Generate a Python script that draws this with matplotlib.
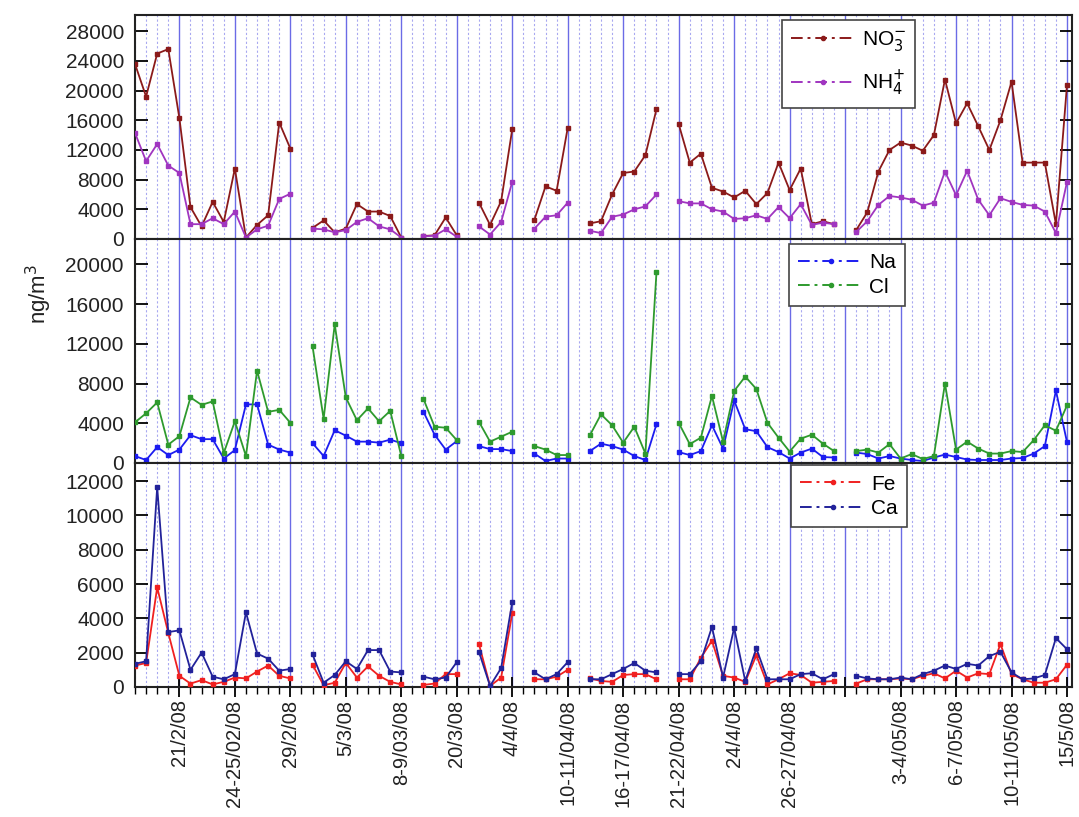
import numpy as np
import matplotlib
matplotlib.use('Agg')
import matplotlib.pyplot as plt
from matplotlib.lines import Line2D
from matplotlib.ticker import MultipleLocator, FixedLocator

plt.rcParams['font.family'] = ['Liberation Sans', 'DejaVu Sans']

N = None  # gap between sampling periods

# sample index 0..84, one value per sample
no3 = [23600, 19200, 25000, 25600, 16300, 4300, 1700, 5000, 2300, 9500, 200, 1900, 3200, 15700, 12200, N,
       1500, 2500, 900, 1400, 4700, 3700, 3700, 3100, 200, N,
       400, 500, 2900, 500, N,
       4900, 1900, 5100, 14800, N,
       2600, 7100, 6500, 15000, N,
       2100, 2400, 6000, 8900, 9100, 11300, 17500, N,
       15500, 10300, 11500, 6900, 6400, 5600, 6500, 4700, 6200, 10300, 6600, 9500, 2000, 2400, 2000, N,
       1200, 3600, 9100, 12000, 13000, 12600, 11900, 14000, 21500, 15600, 18300, 15200, 12000, 16000, 21200,
       10300, 10300, 10300, 2000, 20800]
nh4 = [14300, 10500, 12800, 9900, 8900, 2000, 2000, 2800, 2000, 3700, 200, 1300, 1800, 5400, 6100, N,
       1400, 1300, 900, 1200, 2300, 2800, 1700, 1300, 200, N,
       350, 450, 1300, 300, N,
       1700, 600, 2300, 7700, N,
       1400, 3000, 3200, 4900, N,
       1100, 800, 3000, 3300, 4000, 4400, 6000, N,
       5100, 4800, 4800, 4000, 3700, 2700, 2800, 3200, 2700, 4300, 2800, 4700, 1900, 2200, 2000, N,
       950, 2400, 4600, 5800, 5600, 5300, 4500, 4900, 9100, 5900, 9200, 5300, 3200, 5500, 5000,
       4600, 4500, 3700, 800, 7700]
na = [700, 300, 1600, 800, 1350, 2800, 2400, 2400, 450, 1300, 5900, 5900, 1850, 1350, 1050, N,
      2000, 700, 3300, 2750, 2150, 2150, 2050, 2350, 2000, N,
      5150, 2850, 1350, 2200, N,
      1700, 1400, 1400, 1200, N,
      950, 200, 450, 450, N,
      1200, 1950, 1700, 1350, 700, 300, 3900, N,
      1100, 800, 1200, 3800, 1450, 6300, 3400, 3200, 1600, 1100, 450, 1050, 1450, 600, 550, N,
      1050, 900, 450, 700, 450, 300, 200, 550, 850, 600, 350, 300, 300, 300, 450,
      500, 950, 1700, 7300, 2100]
cl = [4100, 5000, 6100, 1850, 2700, 6600, 5850, 6200, 1000, 4200, 700, 9300, 5150, 5350, 4050, N,
      11750, 4450, 13950, 6600, 4300, 5500, 4200, 5250, 700, N,
      6450, 3650, 3550, 2300, N,
      4150, 2150, 2650, 3150, N,
      1700, 1350, 800, 800, N,
      2800, 4900, 3800, 2050, 3650, 950, 19200, N,
      4050, 1900, 2550, 6750, 2150, 7250, 8700, 7450, 4050, 2550, 1150, 2450, 2850, 1950, 1200, N,
      1200, 1350, 1050, 1900, 450, 900, 400, 700, 8000, 1350, 2150, 1450, 950, 950, 1200,
      1100, 2300, 3800, 3250, 5800]
fe = [1250, 1400, 5800, 3150, 650, 200, 400, 150, 300, 550, 500, 900, 1250, 650, 500, N,
      1300, 100, 250, 1400, 550, 1200, 650, 300, 150, N,
      120, 200, 750, 750, N,
      2500, 60, 550, 4300, N,
      450, 450, 600, 1000, N,
      500, 350, 300, 700, 750, 750, 450, N,
      450, 450, 1700, 2700, 650, 550, 300, 1850, 150, 450, 800, 700, 250, 300, 350, N,
      200, 450, 450, 450, 500, 450, 650, 800, 500, 950, 550, 800, 750, 2500, 750,
      450, 250, 250, 450, 1300]
ca = [1350, 1500, 11650, 3200, 3300, 1000, 2000, 600, 450, 750, 4350, 1950, 1650, 950, 1050, N,
      1900, 250, 700, 1500, 1050, 2150, 2150, 900, 850, N,
      600, 450, 550, 1450, N,
      2050, 60, 1100, 4950, N,
      850, 450, 750, 1450, N,
      450, 450, 750, 1050, 1400, 950, 850, N,
      750, 750, 1500, 3500, 550, 3450, 350, 2250, 450, 450, 450, 750, 800, 450, 750, N,
      650, 500, 450, 450, 550, 450, 750, 950, 1250, 1050, 1350, 1250, 1800, 2050, 850,
      450, 500, 700, 2850, 2200]

date_labels = ['21/2/08', '24-25/02/08', '29/2/08', '5/3/08', '8-9/03/08', '20/3/08', '4/4/08',
               '10-11/04/08', '16-17/04/08', '21-22/04/08', '24/4/08', '26-27/04/08', '',
               '3-4/05/08', '6-7/05/08', '10-11/05/08', '15/5/08']

x = np.arange(len(no3))
major_pos = np.arange(4, len(no3), 5)

def arr(v):
    return np.array([np.nan if a is None else a for a in v], dtype=float)

fig = plt.figure(figsize=(10.79, 8.17), dpi=100)
left, width = 135/1079, 937/1079
h = 224/817
bottoms = [1 - 239/817, 1 - 463/817, 1 - 687/817]

panels = [
    ([(no3, '#8b1a1a', 'NO$_3^{-}$'), (nh4, '#a035c0', 'NH$_4^{+}$')], 30200, 4000, 28000, (0.69, 0.978), 0.75),
    ([(na, '#1c1cf0', 'Na'), (cl, '#2e9a2e', 'Cl')], 22550, 4000, 20000, (0.698, 0.978), 0.25),
    ([(fe, '#f02020', 'Fe'), (ca, '#22229a', 'Ca')], 13050, 2000, 12000, (0.70, 0.99), 0.25),
]

axes = []
for k, (series, ytop, ystep, ymax, legpos, lsp) in enumerate(panels):
    ax = fig.add_axes([left, bottoms[k], width, h])
    handles = []
    for vals, col, lab in series:
        ax.plot(x, arr(vals), color=col, lw=1.3, marker='s', ms=2.5, zorder=3)
        handles.append(Line2D([], [], color=col, lw=1.4, ls=(0, (6, 2.5, 1.5, 2.5)),
                              marker='o', ms=3, label=lab))
    ax.set_xlim(0, 84.45)
    ax.set_ylim(0, ytop)
    ax.set_yticks(np.arange(0, ymax + 1, ystep))
    ax.xaxis.set_major_locator(FixedLocator(major_pos))
    ax.xaxis.set_minor_locator(MultipleLocator(1))
    # vertical grid: solid at labelled dates, dotted at every sample
    ax.grid(axis='x', which='major', color='#6b6be6', lw=1.0, ls='-', zorder=1)
    ax.grid(axis='x', which='minor', color='#a8a8f0', lw=0.8, ls=(0, (2, 2)), zorder=1)
    ax.tick_params(axis='y', direction='in', length=9, width=1.3, right=True,
                   labelsize=15, pad=8, labelcolor='#222222')
    for s in ax.spines.values():
        s.set_linewidth(1.5)
        s.set_color('#222222')
    leg = ax.legend(handles=handles, loc='upper left', bbox_to_anchor=legpos, fontsize=15,
                    handlelength=3.1, handletextpad=0.3, borderpad=0.45, labelspacing=lsp,
                    borderaxespad=0, fancybox=False, framealpha=1, edgecolor='#444444',
                    numpoints=1)
    leg.get_frame().set_linewidth(1.2)
    leg.set_zorder(5)
    if k < 2:
        ax.tick_params(axis='x', which='both', length=0, labelbottom=False)
    else:
        ax.set_xticklabels(date_labels, rotation=90, fontsize=14.5, color='#222222')
        ax.tick_params(axis='x', which='major', direction='inout', length=14, width=1.3, pad=2)
        ax.tick_params(axis='x', which='minor', direction='out', length=5, width=1.0)
    axes.append(ax)

fig.text(0.036, 0.64, 'ng/m$^3$', rotation=90, fontsize=16, ha='center', va='center',
         color='#222222')

fig.savefig('out.png', dpi=100)
